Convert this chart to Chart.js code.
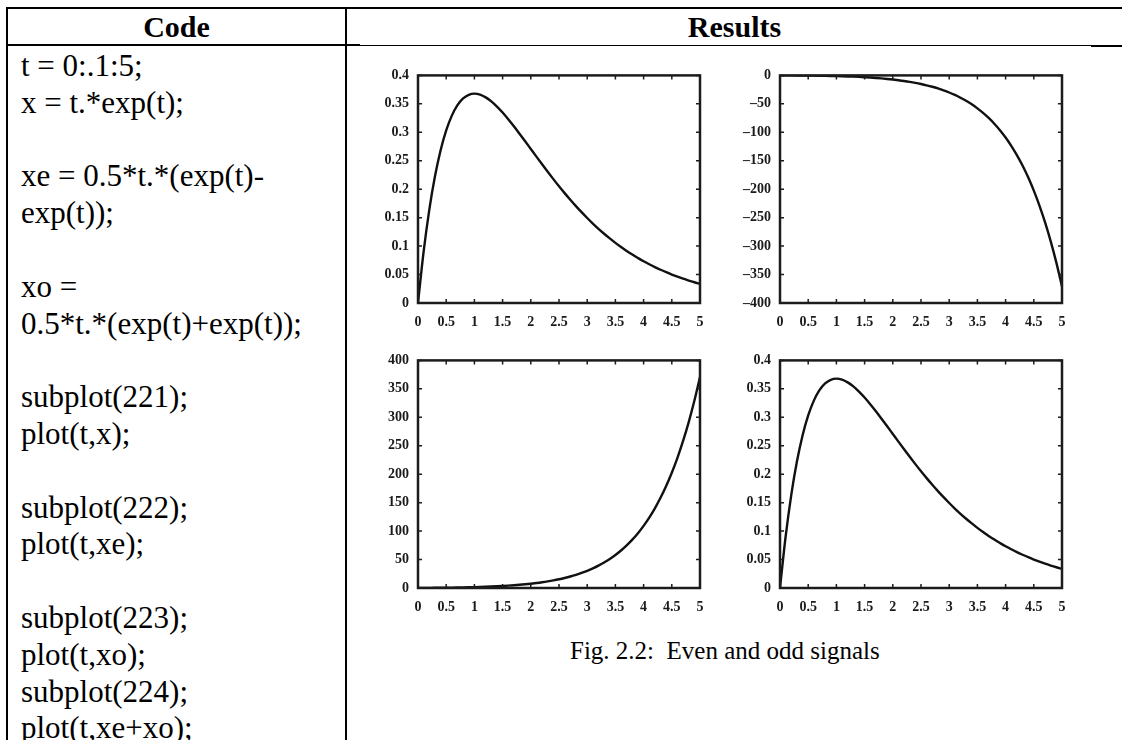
<!DOCTYPE html>
<html>
<head>
<meta charset="utf-8">
<script src="https://cdn.jsdelivr.net/npm/chart.js@4.4.1/dist/chart.umd.min.js"></script>
<style>
  body { margin: 0; background: #fff; width: 1122px; height: 740px; overflow: hidden; position: relative; font-family: "Liberation Serif", "Times New Roman", serif; color: #000; }
  .rule { position: absolute; background: #000; }
  .head { position: absolute; top: 9px; height: 36px; line-height: 36px; font-weight: bold; font-size: 30px; text-align: center; }
  #code { position: absolute; left: 21px; top: 48px; margin: 0; font-family: "Liberation Serif", "Times New Roman", serif; font-size: 31px; line-height: 36.8px; white-space: pre; }
  #caption { position: absolute; left: 570px; top: 636px; font-size: 25px; line-height: 30px; white-space: pre; }
  canvas { position: absolute; }
</style>
</head>
<body>

<div class="rule" style="left:6px; top:7px; width:1116px; height:2px;"></div>
<div class="rule" style="left:6px; top:7px; width:2px; height:733px;"></div>
<div class="rule" style="left:345px; top:7px; width:2px; height:733px;"></div>
<div class="rule" style="left:6px; top:44px; width:354px; height:2px;"></div>
<div class="rule" style="left:346px; top:45px; width:745px; height:1px;"></div>
<div class="rule" style="left:1091px; top:45px; width:31px; height:2px;"></div>

<div class="head" style="left:8px; width:337px;">Code</div>
<div class="head" style="left:347px; width:775px;">Results</div>

<pre id="code">t = 0:.1:5;
x = t.*exp(t);

xe = 0.5*t.*(exp(t)-
exp(t));

xo =
0.5*t.*(exp(t)+exp(t));

subplot(221);
plot(t,x);

subplot(222);
plot(t,xe);

subplot(223);
plot(t,xo);
subplot(224);
plot(t,xe+xo);</pre>

<div id="caption">Fig. 2.2:  Even and odd signals</div>

<canvas id="plot221"></canvas>
<canvas id="plot222"></canvas>
<canvas id="plot223"></canvas>
<canvas id="plot224"></canvas>

<script>
// t = 0:.1:5
var t = [0, 0.1, 0.2, 0.3, 0.4, 0.5, 0.6, 0.7, 0.8, 0.9,
         1, 1.1, 1.2, 1.3, 1.4, 1.5, 1.6, 1.7, 1.8, 1.9,
         2, 2.1, 2.2, 2.3, 2.4, 2.5, 2.6, 2.7, 2.8, 2.9,
         3, 3.1, 3.2, 3.3, 3.4, 3.5, 3.6, 3.7, 3.8, 3.9,
         4, 4.1, 4.2, 4.3, 4.4, 4.5, 4.6, 4.7, 4.8, 4.9, 5];

// subplot(221): x
var x = [0, 0.0905, 0.1637, 0.2222, 0.2681, 0.3033, 0.3293, 0.3476, 0.3595, 0.3659,
         0.3679, 0.3662, 0.3614, 0.3543, 0.3452, 0.3347, 0.3230, 0.3106, 0.2975, 0.2842,
         0.2707, 0.2572, 0.2438, 0.2306, 0.2177, 0.2052, 0.1931, 0.1815, 0.1703, 0.1596,
         0.1494, 0.1397, 0.1304, 0.1217, 0.1135, 0.1057, 0.0984, 0.0915, 0.0851, 0.0791,
         0.0733, 0.0680, 0.0630, 0.0584, 0.0541, 0.0500, 0.0462, 0.0427, 0.0395, 0.0365, 0.0337];

// subplot(222): xe
var xe = [0, -0.010, -0.040, -0.091, -0.164, -0.261, -0.382, -0.531, -0.710, -0.924,
          -1.175, -1.469, -1.811, -2.208, -2.666, -3.194, -3.801, -4.498, -5.296, -6.210,
          -7.254, -8.446, -9.806, -11.36, -13.12, -15.13, -17.41, -20.00, -22.94, -26.27,
          -30.05, -34.34, -39.19, -44.68, -50.88, -57.90, -65.83, -74.78, -84.89, -96.30,
          -109.2, -123.7, -140.0, -158.4, -179.2, -202.5, -228.8, -258.4, -291.6, -329.0, -371.0];

// subplot(223): xo
var xo = [0, 0.1005, 0.204, 0.3136, 0.4324, 0.5638, 0.7113, 0.8786, 1.070, 1.290,
          1.543, 1.835, 2.173, 2.562, 3.011, 3.529, 4.124, 4.808, 5.594, 6.494,
          7.524, 8.703, 10.05, 11.59, 13.34, 15.33, 17.60, 20.18, 23.11, 26.43,
          30.20, 34.48, 39.32, 44.80, 51.00, 58.00, 65.93, 74.87, 84.97, 96.37,
          109.2, 123.7, 140.1, 158.5, 179.2, 202.6, 228.8, 258.4, 291.6, 329.0, 371.0];

// subplot(224): xe+xo
var xexo = [0, 0.0905, 0.1637, 0.2222, 0.2681, 0.3033, 0.3293, 0.3476, 0.3595, 0.3659,
            0.3679, 0.3662, 0.3614, 0.3543, 0.3452, 0.3347, 0.3230, 0.3106, 0.2975, 0.2842,
            0.2707, 0.2572, 0.2438, 0.2306, 0.2177, 0.2052, 0.1931, 0.1815, 0.1703, 0.1596,
            0.1494, 0.1397, 0.1304, 0.1217, 0.1135, 0.1057, 0.0984, 0.0915, 0.0851, 0.0791,
            0.0733, 0.0680, 0.0630, 0.0584, 0.0541, 0.0500, 0.0462, 0.0427, 0.0395, 0.0365, 0.0337];

// axis ranges and tick steps
var xRange = [0, 5, 0.5];
var yRange221 = [0, 0.4, 0.05];
var yRange222 = [-400, 0, 50];
var yRange223 = [0, 400, 50];
var yRange224 = [0, 0.4, 0.05];

// frame + inward tick marks on all four sides, like the old matlab plots
const frameTicks = {
    id: 'frameTicks',
    afterDraw(chart) {
        const ctx = chart.ctx;
        const a = chart.chartArea;
        const sx = chart.scales.x;
        const sy = chart.scales.y;
        ctx.save();
        ctx.strokeStyle = '#1c1c1c';
        ctx.lineWidth = 1.5;
        ctx.beginPath();
        sx.ticks.forEach(function(tk, i){
            var px = sx.getPixelForTick(i);
            ctx.moveTo(px, a.top); ctx.lineTo(px, a.top + 4);
            ctx.moveTo(px, a.bottom); ctx.lineTo(px, a.bottom - 4);
        });
        sy.ticks.forEach(function(tk, i){
            var py = sy.getPixelForTick(i);
            ctx.moveTo(a.left, py); ctx.lineTo(a.left + 4, py);
            ctx.moveTo(a.right, py); ctx.lineTo(a.right - 4, py);
        });
        ctx.stroke();
        ctx.lineWidth = 2.5;
        ctx.strokeRect(a.left, a.top, a.right - a.left, a.bottom - a.top);
        ctx.restore();
    }
};

function tickText(v){
    var s = String(Math.round(v * 1000) / 1000);
    return s.replace('-', '\u2013');
}

function makePlot(id, ys, yRange, box){
    // box = [left, top, right, bottom] of the plot frame on the page
    var cv = document.getElementById(id);
    var padL = 60, padT = 14, padR = 22, padB = 40;
    cv.width = box[2] - box[0] + padL + padR;
    cv.height = box[3] - box[1] + padT + padB;
    cv.style.left = (box[0] - padL) + 'px';
    cv.style.top = (box[1] - padT) + 'px';

    var pts = [];
    for (var i = 0; i < t.length; i++) {
        pts.push({x: t[i], y: ys[i]});
    }

    const config = {
        type: 'line',
        data: {
            datasets: [{
                data: pts,
                borderColor: '#111',
                borderWidth: 2.4,
                pointRadius: 0,
                fill: false,
                cubicInterpolationMode: 'monotone'
            }]
        },
        options: {
            responsive: false,
            animation: false,
            devicePixelRatio: 1,
            layout: { padding: { left: 0, top: padT, right: padR, bottom: 0 } },
            plugins: {
                legend: { display: false },
                tooltip: { enabled: false }
            },
            scales: {
                x: {
                    type: 'linear',
                    min: xRange[0],
                    max: xRange[1],
                    grid: { display: false, drawTicks: false },
                    border: { display: false },
                    afterFit: function(s){ s.height = padB; },
                    ticks: {
                        stepSize: xRange[2],
                        autoSkip: false,
                        maxRotation: 0,
                        padding: 11,
                        color: '#1a1a1a',
                        font: { family: 'Liberation Serif', size: 14, weight: 'bold' },
                        callback: tickText
                    }
                },
                y: {
                    min: yRange[0],
                    max: yRange[1],
                    grid: { display: false, drawTicks: false },
                    border: { display: false },
                    afterFit: function(s){ s.width = padL; },
                    ticks: {
                        stepSize: yRange[2],
                        autoSkip: false,
                        padding: 9,
                        color: '#1a1a1a',
                        font: { family: 'Liberation Serif', size: 14, weight: 'bold' },
                        callback: tickText
                    }
                }
            }
        },
        plugins: [frameTicks]
    };

    return new Chart(cv, config);
}

makePlot('plot221', x, yRange221, [418, 72, 700, 303]);
makePlot('plot222', xe, yRange222, [780, 72, 1062, 303]);
makePlot('plot223', xo, yRange223, [418, 357, 700, 588]);
makePlot('plot224', xexo, yRange224, [780, 357, 1062, 588]);
</script>
</body>
</html>
